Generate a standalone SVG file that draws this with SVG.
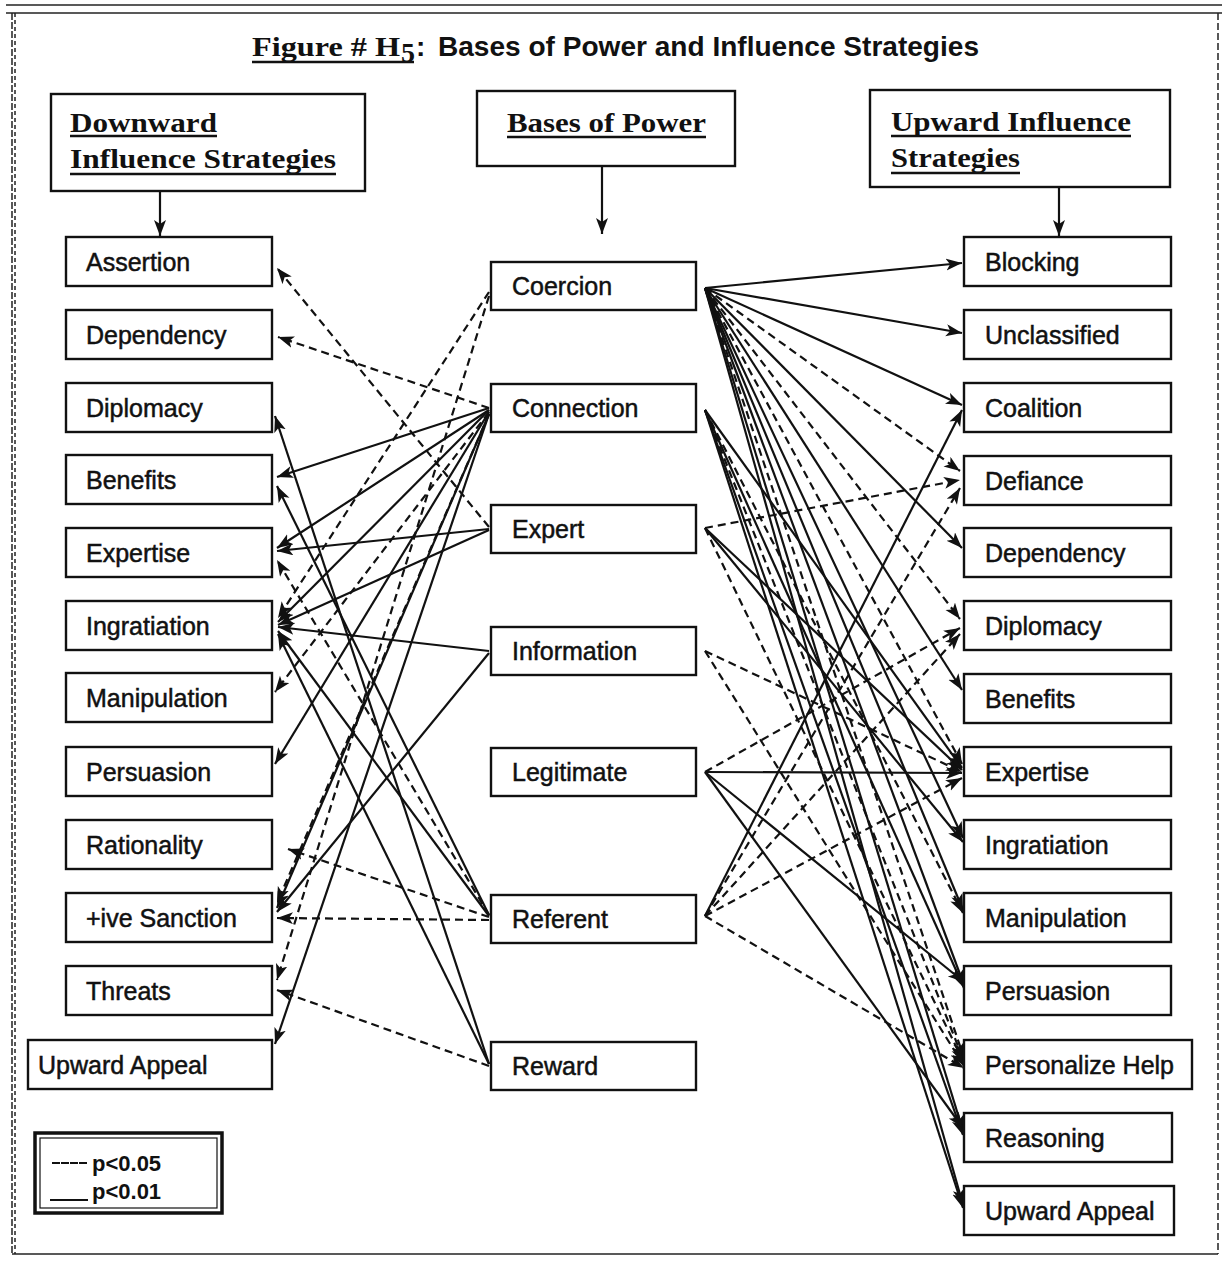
<svg xmlns="http://www.w3.org/2000/svg" width="1226" height="1263" viewBox="0 0 1226 1263">
<defs>
<marker id="ah" markerUnits="userSpaceOnUse" markerWidth="17" markerHeight="13" refX="16" refY="6" orient="auto">
<path d="M0,0 L16,6 L0,12 L4,6 Z" fill="#111"/>
</marker>
</defs>
<style>
.box{fill:#fff;stroke:#111;stroke-width:2.4}
.lbl{font-family:"Liberation Sans",Arial,sans-serif;font-size:25px;fill:#111;stroke:#111;stroke-width:0.5}
.hdr{font-family:"Liberation Serif","Times New Roman",serif;font-weight:bold;font-size:28px;fill:#111}
.ul{stroke:#111;stroke-width:2.5}
.s{stroke:#111;stroke-width:2.2;fill:none;marker-end:url(#ah)}
.d{stroke:#111;stroke-width:2.2;fill:none;stroke-dasharray:8 5;marker-end:url(#ah)}
.frame{stroke:#222;stroke-width:1.5;fill:none}
</style>
<rect width="1226" height="1263" fill="#fff"/>
<g id="frame">
<line class="frame" x1="6" y1="5" x2="1222" y2="5"/>
<line class="frame" x1="6" y1="13" x2="1222" y2="13"/>
<line class="frame" x1="12" y1="13" x2="12" y2="1254" stroke-dasharray="7 2"/>
<line class="frame" x1="15" y1="13" x2="15" y2="1254" stroke-dasharray="4 3"/>
<line class="frame" x1="1218" y1="13" x2="1218" y2="1254" stroke-dasharray="7 3"/>
<line class="frame" x1="12" y1="1254" x2="1218" y2="1254" stroke-width="2"/>
</g>
<g id="title">
<text x="252" y="56" class="hdr" textLength="148" lengthAdjust="spacingAndGlyphs">Figure # H</text>
<text x="401" y="62" class="hdr" font-size="18">5</text>
<line class="ul" x1="252" y1="62" x2="414" y2="62"/>
<text x="416" y="56" font-family="Liberation Sans,Arial,sans-serif" font-weight="bold" font-size="28" fill="#111">:</text>
<text x="438" y="56" font-family="Liberation Sans,Arial,sans-serif" font-weight="bold" font-size="28" fill="#111" textLength="541" lengthAdjust="spacingAndGlyphs">Bases of Power and Influence Strategies</text>
</g>
<g id="connectors">
<line class="s" x1="160" y1="191" x2="160" y2="236"/>
<line class="s" x1="602" y1="166" x2="602" y2="234"/>
<line class="s" x1="1059" y1="187" x2="1059" y2="236"/>
<path class="d" d="M489,527 L277,268"/>
<path class="d" d="M489,408 L278,337"/>
<path class="d" d="M489,292 L278,618"/>
<path class="d" d="M489,296 L277,980"/>
<path class="d" d="M489,412 L275,692"/>
<path class="d" d="M489,414 L277,903"/>
<path class="d" d="M489,917 L288,849"/>
<path class="d" d="M489,920 L277,918"/>
<path class="d" d="M489,1066 L277,990"/>
<path class="d" d="M489,915 L277,560"/>
<path class="s" d="M489,408 L277,477"/>
<path class="s" d="M489,410 L277,548"/>
<path class="s" d="M489,410 L278,622"/>
<path class="s" d="M489,412 L275,764"/>
<path class="s" d="M489,414 L277,908"/>
<path class="s" d="M489,414 L275,1044"/>
<path class="s" d="M489,529 L277,551"/>
<path class="s" d="M489,530 L278,625"/>
<path class="s" d="M489,651 L278,627"/>
<path class="s" d="M489,653 L277,912"/>
<path class="s" d="M489,915 L277,486"/>
<path class="s" d="M489,916 L278,631"/>
<path class="s" d="M489,1064 L275,416"/>
<path class="s" d="M489,1064 L278,634"/>
<path class="s" d="M705,288 L962,263"/>
<path class="s" d="M705,288 L962,333"/>
<path class="s" d="M705,288 L962,405"/>
<path class="d" d="M705,288 L960,471"/>
<path class="s" d="M705,288 L962,548"/>
<path class="d" d="M705,288 L960,619"/>
<path class="s" d="M705,288 L962,690"/>
<path class="d" d="M705,288 L962,764"/>
<path class="s" d="M705,288 L963,838"/>
<path class="s" d="M705,288 L963,910"/>
<path class="s" d="M705,288 L964,985"/>
<path class="d" d="M705,288 L964,1058"/>
<path class="s" d="M705,288 L963,1131"/>
<path class="s" d="M705,288 L963,1205"/>
<path class="s" d="M705,410 L962,768"/>
<path class="d" d="M705,410 L963,913"/>
<path class="s" d="M705,410 L964,988"/>
<path class="d" d="M705,410 L964,1061"/>
<path class="s" d="M705,410 L963,1135"/>
<path class="s" d="M705,410 L963,1208"/>
<path class="d" d="M705,528 L960,480"/>
<path class="s" d="M705,528 L962,770"/>
<path class="s" d="M705,528 L963,842"/>
<path class="d" d="M705,528 L964,1063"/>
<path class="d" d="M705,651 L962,772"/>
<path class="d" d="M705,651 L964,1066"/>
<path class="d" d="M705,772 L960,628"/>
<path class="s" d="M705,772 L962,773"/>
<path class="s" d="M705,772 L964,982"/>
<path class="s" d="M705,772 L963,1128"/>
<path class="s" d="M705,916 L962,410"/>
<path class="d" d="M705,916 L960,488"/>
<path class="d" d="M705,916 L960,634"/>
<path class="d" d="M705,916 L962,778"/>
<path class="d" d="M705,916 L964,1068"/>
</g>
<g id="hdr-downward">
<rect class="box" x="51" y="94" width="314" height="97"/>
<text class="hdr" x="70" y="132" textLength="147" lengthAdjust="spacingAndGlyphs">Downward</text>
<line class="ul" x1="70" y1="136" x2="217" y2="136"/>
<text class="hdr" x="70" y="168" textLength="266" lengthAdjust="spacingAndGlyphs">Influence Strategies</text>
<line class="ul" x1="70" y1="174" x2="336" y2="174"/>
</g>
<g id="hdr-bases">
<rect class="box" x="477" y="91" width="258" height="75"/>
<text class="hdr" x="507" y="132" textLength="199" lengthAdjust="spacingAndGlyphs">Bases of Power</text>
<line class="ul" x1="507" y1="137" x2="706" y2="137"/>
</g>
<g id="hdr-upward">
<rect class="box" x="870" y="90" width="300" height="97"/>
<text class="hdr" x="891" y="131" textLength="240" lengthAdjust="spacingAndGlyphs">Upward Influence</text>
<line class="ul" x1="891" y1="136" x2="1131" y2="136"/>
<text class="hdr" x="891" y="167" textLength="129" lengthAdjust="spacingAndGlyphs">Strategies</text>
<line class="ul" x1="891" y1="173" x2="1020" y2="173"/>
</g>
<g id="d-assertion"><rect class="box" x="66" y="237" width="206" height="49"/><text class="lbl" x="86" y="271">Assertion</text></g>
<g id="d-dependency"><rect class="box" x="66" y="310" width="206" height="49"/><text class="lbl" x="86" y="344">Dependency</text></g>
<g id="d-diplomacy"><rect class="box" x="66" y="383" width="206" height="49"/><text class="lbl" x="86" y="417">Diplomacy</text></g>
<g id="d-benefits"><rect class="box" x="66" y="455" width="206" height="49"/><text class="lbl" x="86" y="489">Benefits</text></g>
<g id="d-expertise"><rect class="box" x="66" y="528" width="206" height="49"/><text class="lbl" x="86" y="562">Expertise</text></g>
<g id="d-ingratiation"><rect class="box" x="66" y="601" width="206" height="49"/><text class="lbl" x="86" y="635">Ingratiation</text></g>
<g id="d-manipulation"><rect class="box" x="66" y="673" width="206" height="49"/><text class="lbl" x="86" y="707">Manipulation</text></g>
<g id="d-persuasion"><rect class="box" x="66" y="747" width="206" height="49"/><text class="lbl" x="86" y="781">Persuasion</text></g>
<g id="d-rationality"><rect class="box" x="66" y="820" width="206" height="49"/><text class="lbl" x="86" y="854">Rationality</text></g>
<g id="d-sanction"><rect class="box" x="66" y="893" width="206" height="49"/><text class="lbl" x="86" y="927">+ive Sanction</text></g>
<g id="d-threats"><rect class="box" x="66" y="966" width="206" height="49"/><text class="lbl" x="86" y="1000">Threats</text></g>
<g id="d-upward-appeal"><rect class="box" x="28" y="1040" width="244" height="49"/><text class="lbl" x="38" y="1074">Upward Appeal</text></g>
<g id="b-coercion"><rect class="box" x="491" y="262" width="205" height="48"/><text class="lbl" x="512" y="295">Coercion</text></g>
<g id="b-connection"><rect class="box" x="491" y="384" width="205" height="48"/><text class="lbl" x="512" y="417">Connection</text></g>
<g id="b-expert"><rect class="box" x="491" y="505" width="205" height="48"/><text class="lbl" x="512" y="538">Expert</text></g>
<g id="b-information"><rect class="box" x="491" y="627" width="205" height="48"/><text class="lbl" x="512" y="660">Information</text></g>
<g id="b-legitimate"><rect class="box" x="491" y="748" width="205" height="48"/><text class="lbl" x="512" y="781">Legitimate</text></g>
<g id="b-referent"><rect class="box" x="491" y="895" width="205" height="48"/><text class="lbl" x="512" y="928">Referent</text></g>
<g id="b-reward"><rect class="box" x="491" y="1042" width="205" height="48"/><text class="lbl" x="512" y="1075">Reward</text></g>
<g id="u-blocking"><rect class="box" x="964" y="237" width="207" height="49"/><text class="lbl" x="985" y="271">Blocking</text></g>
<g id="u-unclassified"><rect class="box" x="964" y="310" width="207" height="49"/><text class="lbl" x="985" y="344">Unclassified</text></g>
<g id="u-coalition"><rect class="box" x="964" y="383" width="207" height="49"/><text class="lbl" x="985" y="417">Coalition</text></g>
<g id="u-defiance"><rect class="box" x="964" y="456" width="207" height="49"/><text class="lbl" x="985" y="490">Defiance</text></g>
<g id="u-dependency"><rect class="box" x="964" y="528" width="207" height="49"/><text class="lbl" x="985" y="562">Dependency</text></g>
<g id="u-diplomacy"><rect class="box" x="964" y="601" width="207" height="49"/><text class="lbl" x="985" y="635">Diplomacy</text></g>
<g id="u-benefits"><rect class="box" x="964" y="674" width="207" height="49"/><text class="lbl" x="985" y="708">Benefits</text></g>
<g id="u-expertise"><rect class="box" x="964" y="747" width="207" height="49"/><text class="lbl" x="985" y="781">Expertise</text></g>
<g id="u-ingratiation"><rect class="box" x="964" y="820" width="207" height="49"/><text class="lbl" x="985" y="854">Ingratiation</text></g>
<g id="u-manipulation"><rect class="box" x="964" y="893" width="207" height="49"/><text class="lbl" x="985" y="927">Manipulation</text></g>
<g id="u-persuasion"><rect class="box" x="964" y="966" width="207" height="49"/><text class="lbl" x="985" y="1000">Persuasion</text></g>
<g id="u-personalize-help"><rect class="box" x="964" y="1040" width="228" height="49"/><text class="lbl" x="985" y="1074">Personalize Help</text></g>
<g id="u-reasoning"><rect class="box" x="964" y="1113" width="208" height="49"/><text class="lbl" x="985" y="1147">Reasoning</text></g>
<g id="u-upward-appeal"><rect class="box" x="964" y="1186" width="210" height="49"/><text class="lbl" x="985" y="1220">Upward Appeal</text></g>
<g id="legend">
<rect x="35" y="1133" width="187" height="80" fill="#fff" stroke="#111" stroke-width="3.5"/>
<rect x="40" y="1138" width="177" height="70" fill="none" stroke="#111" stroke-width="1.2"/>
<line x1="52" y1="1163" x2="88" y2="1163" stroke="#111" stroke-width="2" stroke-dasharray="8 1"/>
<text x="92" y="1171" font-family="Liberation Sans,Arial,sans-serif" font-weight="bold" font-size="22" fill="#111">p&lt;0.05</text>
<line x1="50" y1="1200" x2="88" y2="1200" stroke="#111" stroke-width="2"/>
<text x="92" y="1199" font-family="Liberation Sans,Arial,sans-serif" font-weight="bold" font-size="22" fill="#111">p&lt;0.01</text>
</g>
</svg>
